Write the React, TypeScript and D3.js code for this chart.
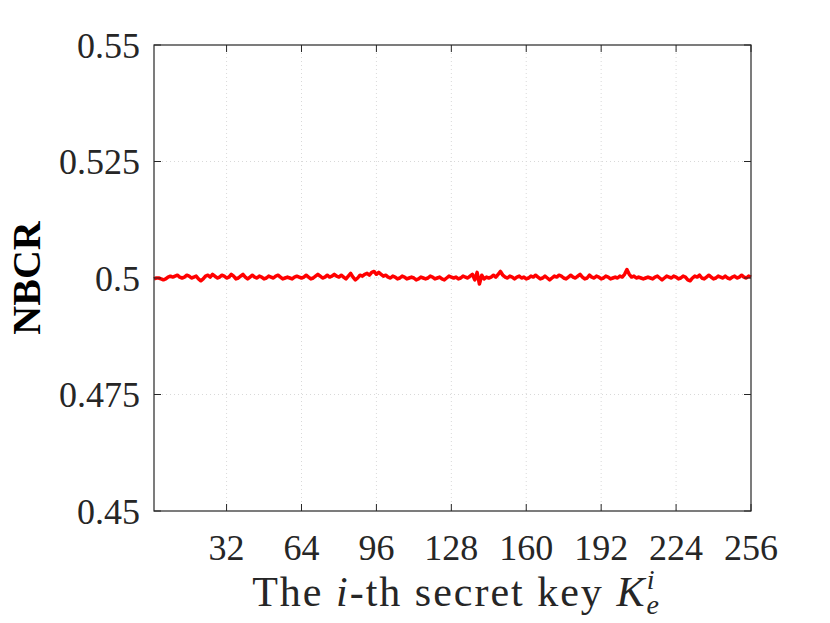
import { useEffect, useRef } from 'react'
import * as d3 from 'd3'

// NBCR for each secret key index 1..256
const nbcr: number[] = [
  0.4998, 0.5000, 0.5000, 0.4998, 0.4996, 0.4998, 0.5002, 0.5004, 0.5002, 0.5004, 0.5006, 0.5002, 0.5000, 0.5002, 0.5006, 0.5004,
  0.5000, 0.5002, 0.5004, 0.4998, 0.4994, 0.4998, 0.5004, 0.5006, 0.5002, 0.5008, 0.5004, 0.5000, 0.5002, 0.5006, 0.5004, 0.5000,
  0.5002, 0.5008, 0.5004, 0.4998, 0.5000, 0.5004, 0.5008, 0.5002, 0.4998, 0.5002, 0.5006, 0.5002, 0.5000, 0.5004, 0.5002, 0.4998,
  0.5000, 0.5004, 0.5002, 0.5000, 0.5004, 0.5006, 0.5002, 0.4998, 0.5000, 0.5002, 0.5000, 0.4998, 0.5002, 0.5004, 0.5002, 0.5000,
  0.5002, 0.5006, 0.5002, 0.4998, 0.5000, 0.5004, 0.5008, 0.5004, 0.5000, 0.5002, 0.5006, 0.5002, 0.5004, 0.5008, 0.5004, 0.5002,
  0.5006, 0.5002, 0.4998, 0.5004, 0.5010, 0.5002, 0.4996, 0.5000, 0.5006, 0.5004, 0.5008, 0.5010, 0.5006, 0.5012, 0.5014, 0.5008,
  0.5012, 0.5008, 0.5004, 0.5006, 0.5002, 0.5000, 0.5004, 0.5002, 0.4998, 0.5000, 0.5004, 0.5002, 0.4998, 0.5000, 0.5002, 0.5000,
  0.4996, 0.4998, 0.5002, 0.5000, 0.4998, 0.5000, 0.5004, 0.5002, 0.4998, 0.5000, 0.5002, 0.4998, 0.4996, 0.5000, 0.5004, 0.5002,
  0.5000, 0.5002, 0.4998, 0.5000, 0.5004, 0.5002, 0.5000, 0.5004, 0.5008, 0.4996, 0.5012, 0.4987, 0.5006, 0.4998, 0.5002, 0.5000,
  0.5002, 0.5006, 0.5002, 0.5008, 0.5014, 0.5006, 0.5002, 0.5000, 0.5004, 0.5002, 0.4998, 0.5002, 0.5004, 0.5000, 0.5002, 0.4998,
  0.5000, 0.5004, 0.5002, 0.5006, 0.5002, 0.4998, 0.5000, 0.5004, 0.5000, 0.4996, 0.5000, 0.5004, 0.5002, 0.5006, 0.5004, 0.5000,
  0.4998, 0.5002, 0.5006, 0.5002, 0.5000, 0.5004, 0.5008, 0.5002, 0.4998, 0.5000, 0.5006, 0.5002, 0.5000, 0.5004, 0.5002, 0.4998,
  0.5000, 0.5004, 0.5002, 0.4998, 0.5000, 0.5002, 0.5000, 0.5004, 0.5002, 0.5008, 0.5018, 0.5008, 0.5002, 0.5004, 0.5000, 0.5002,
  0.5000, 0.4998, 0.5000, 0.5002, 0.5000, 0.4998, 0.5002, 0.5004, 0.5000, 0.4996, 0.5000, 0.5004, 0.5002, 0.5000, 0.5004, 0.5002,
  0.4998, 0.5000, 0.5004, 0.5002, 0.4996, 0.4994, 0.5000, 0.5004, 0.5002, 0.5006, 0.5000, 0.4998, 0.5002, 0.5006, 0.5002, 0.4998,
  0.5000, 0.5004, 0.5002, 0.5000, 0.5004, 0.5000, 0.4998, 0.5002, 0.5004, 0.5000, 0.5002, 0.5006, 0.5002, 0.5000, 0.5004, 0.5002,
]
const xTicks = [32, 64, 96, 128, 160, 192, 224, 256]
const yTicks = [0.45, 0.475, 0.5, 0.525, 0.55]

export default function App() {
  const svgRef = useRef<SVGSVGElement>(null)

  useEffect(() => {
    if (!svgRef.current) return
    const width = 830
    const height = 623
    const m = { left: 154, right: 79, top: 45, bottom: 112 }
    const iw = width - m.left - m.right
    const ih = height - m.top - m.bottom
    const font = '"Liberation Serif", "Times New Roman", serif'

    const svg = d3.select(svgRef.current)
    svg.selectAll('*').remove()
    svg.attr('width', width).attr('height', height).style('background', '#fff')

    const x = d3.scaleLinear().domain([1, 256]).range([0, iw])
    const y = d3.scaleLinear().domain([0.45, 0.55]).range([ih, 0])

    const g = svg.append('g').attr('transform', `translate(${m.left},${m.top})`)

    // grid
    g.selectAll('.gx')
      .data(xTicks.slice(0, -1))
      .enter()
      .append('line')
      .attr('x1', d => x(d)).attr('x2', d => x(d))
      .attr('y1', 0).attr('y2', ih)
      .attr('stroke', '#d9d9d9').attr('stroke-width', 1)
      .attr('stroke-dasharray', '1,3')
    g.selectAll('.gy')
      .data(yTicks.slice(1, -1))
      .enter()
      .append('line')
      .attr('x1', 0).attr('x2', iw)
      .attr('y1', d => y(d)).attr('y2', d => y(d))
      .attr('stroke', '#d9d9d9').attr('stroke-width', 1)
      .attr('stroke-dasharray', '1,3')

    // data line
    const line = d3.line<number>().x((d, i) => x(i + 1)).y(d => y(d))
    g.append('path')
      .datum(nbcr)
      .attr('d', line)
      .attr('fill', 'none')
      .attr('stroke', '#ff0000')
      .attr('stroke-width', 3.5)
      .attr('stroke-linejoin', 'round')

    // box
    g.append('rect')
      .attr('x', 0).attr('y', 0).attr('width', iw).attr('height', ih)
      .attr('fill', 'none').attr('stroke', '#262626').attr('stroke-width', 1.2)

    const tl = 7
    xTicks.forEach(t => {
      g.append('line').attr('x1', x(t)).attr('x2', x(t)).attr('y1', ih).attr('y2', ih - tl).attr('stroke', '#262626')
      g.append('line').attr('x1', x(t)).attr('x2', x(t)).attr('y1', 0).attr('y2', tl).attr('stroke', '#262626')
      g.append('text')
        .attr('x', x(t)).attr('y', ih + 49)
        .attr('text-anchor', 'middle')
        .style('font-family', font).style('font-size', '36px').style('fill', '#262626')
        .text(t)
    })
    yTicks.forEach(t => {
      g.append('line').attr('x1', 0).attr('x2', tl).attr('y1', y(t)).attr('y2', y(t)).attr('stroke', '#262626')
      g.append('line').attr('x1', iw).attr('x2', iw - tl).attr('y1', y(t)).attr('y2', y(t)).attr('stroke', '#262626')
      g.append('text')
        .attr('x', -14).attr('y', y(t))
        .attr('dy', '0.35em')
        .attr('text-anchor', 'end')
        .style('font-family', font).style('font-size', '36px').style('fill', '#262626')
        .text(String(t))
    })

    // x label
    const xl = svg.append('text')
      .attr('x', m.left + iw / 2 + 4).attr('y', 606)
      .attr('text-anchor', 'middle')
      .style('font-family', font).style('font-size', '42px').style('fill', '#262626')
      .style('letter-spacing', '2px')
    xl.append('tspan').text('The ')
    xl.append('tspan').style('font-style', 'italic').text('i')
    xl.append('tspan').text('-th secret key ')
    xl.append('tspan').style('font-style', 'italic').text('K')
    xl.append('tspan').style('font-style', 'italic').style('font-size', '28px').attr('dy', 8).text('e')
    xl.append('tspan').style('font-style', 'italic').style('font-size', '28px').attr('dx', -14).attr('dy', -25).text('i')

    // y label
    svg.append('text')
      .attr('transform', `translate(40,${m.top + y(0.5)}) rotate(-90)`)
      .attr('text-anchor', 'middle')
      .style('font-family', font).style('font-size', '40px').style('font-weight', 'bold')
      .style('fill', '#000')
      .text('NBCR')
  }, [])

  return (
    <div style={{ position: 'absolute', left: 0, top: 0 }}>
      <svg ref={svgRef}></svg>
    </div>
  )
}
